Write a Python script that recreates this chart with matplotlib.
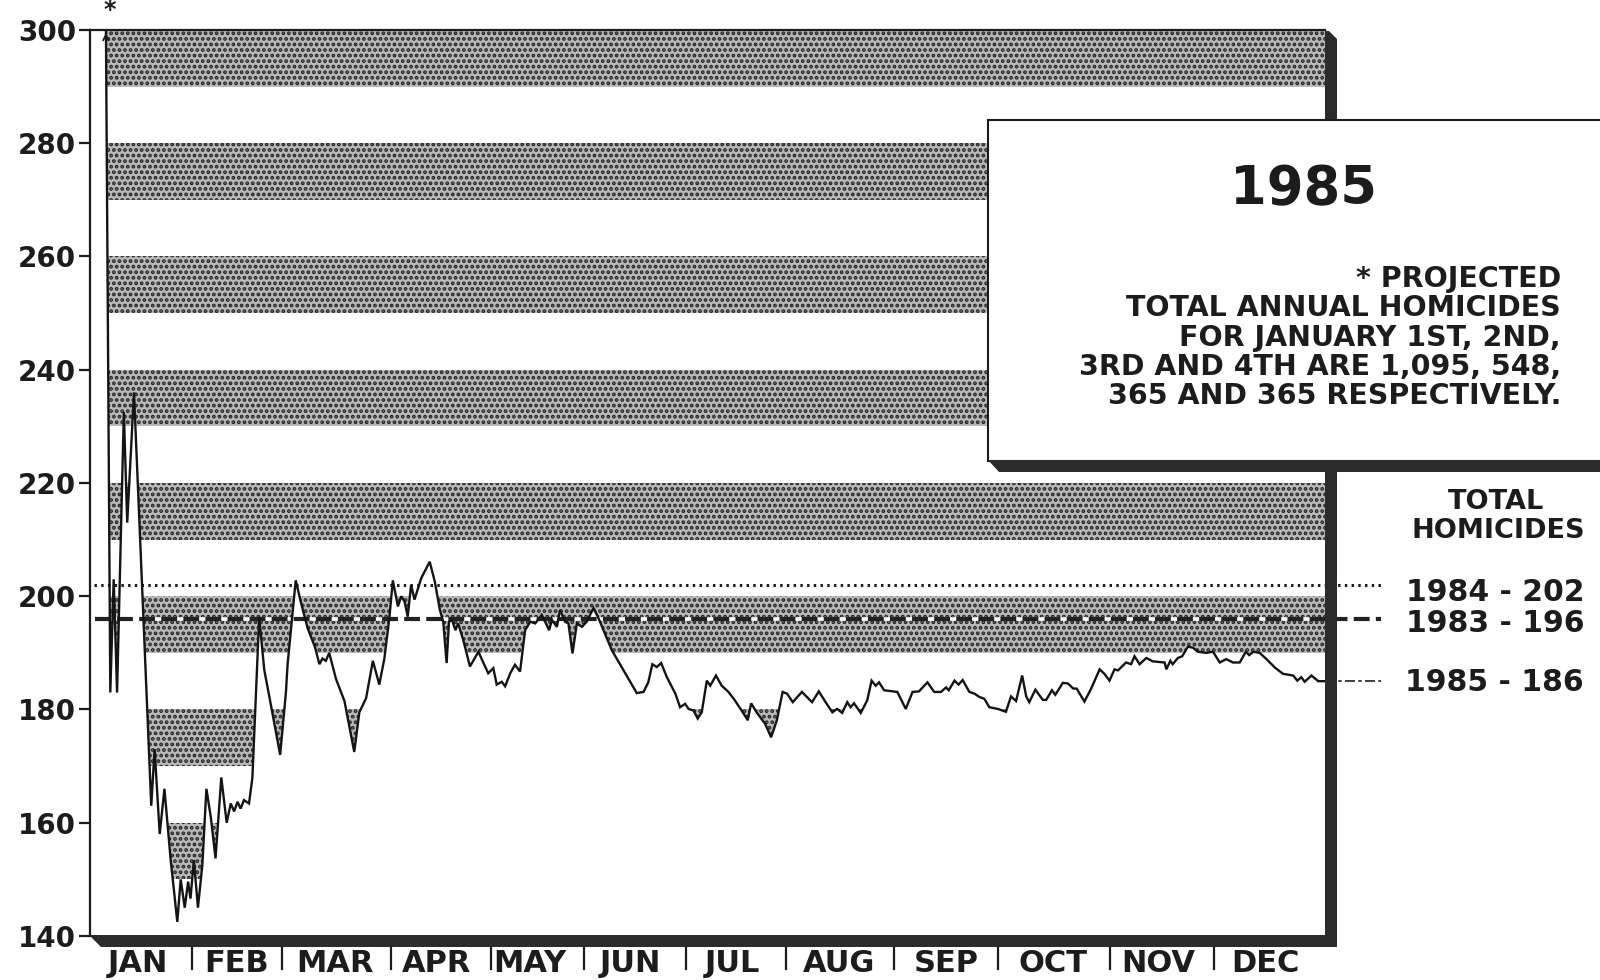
import numpy as np
import matplotlib
matplotlib.use("Agg")
import matplotlib.pyplot as plt
from matplotlib.patches import Rectangle, Polygon
from matplotlib.transforms import blended_transform_factory

# ==========================================
# Data
# ==========================================

# projected annual total, by day of year (Jan 1-4 go off the top)
days = [1, 2, 3, 4, 6, 7, 8, 10, 11, 13, 18.1, 19.1, 20.6, 22.0, 23.8, 25.8,
        26.8, 28.0, 29.0, 29.7, 30.7, 31.9, 33.2, 34.4, 35.7, 37.1, 38.8, 40.4,
        41.6, 42.6, 43.6, 44.5, 45.5, 47.0, 48.0, 50.0, 51.5, 53.4, 56.2, 57.9,
        58.4, 60.8, 62.3, 64.3, 66.5, 67.8, 68.7, 69.7, 70.7, 72.7, 75.2, 78.1,
        79.6, 81.6, 83.6, 85.5, 87.0, 88.5, 89.5, 91.0, 92.0, 93.0, 93.9, 94.9,
        95.9, 97.9, 100.4, 101.9, 103.4, 104.4, 105.4, 106.1, 107.0, 108.0,
        108.8, 110.3, 112.3, 114.8, 116.3, 117.7, 119.2, 120.2, 121.7, 122.7,
        124.2, 125.6, 127.1, 128.6, 130.1, 131.6, 133.5, 134.5, 135.7, 136.5,
        138.0, 138.9, 140.4, 141.4, 142.6, 143.9, 145.4, 146.8, 148.8, 150.3,
        154.2, 158.2, 161.6, 163.6, 165.0, 166.2, 167.5, 168.8, 170.5, 173.0,
        174.4, 175.9, 176.9, 178.4, 179.6, 180.8, 182.3, 183.3, 185.0, 186.7,
        188.7, 190.6, 192.6, 194.4, 195.4, 197.0, 199.5, 201.3, 203.0, 204.7,
        206.0, 207.7, 210.4, 213.4, 215.4, 217.4, 219.4, 220.8, 222.3, 223.8,
        224.8, 225.8, 227.8, 229.7, 231.0, 232.2, 233.2, 234.7, 238.6, 241.1,
        243.1, 245.0, 247.5, 249.5, 251.5, 253.0, 253.8, 255.5, 256.7, 257.9,
        259.9, 261.4, 262.9, 264.3, 265.8, 268.3, 270.7, 272.2, 273.7, 275.5,
        276.7, 277.6, 279.4, 281.6, 282.6, 284.3, 285.3, 287.5, 289.0, 290.6,
        291.6, 293.9, 295.9, 298.4, 299.8, 301.3, 302.8, 303.8, 306.2, 307.7,
        308.7, 310.2, 312.2, 314.1, 317.6, 318.1, 319.3, 320.0, 321.5, 322.8,
        324.5, 326.0, 327.4, 329.9, 331.9, 333.9, 335.8, 337.8, 339.8, 341.6,
        342.6, 343.8, 345.7, 347.7, 350.2, 352.6, 355.6, 356.8, 358.0, 359.0,
        361.0, 363.0, 365.0]

homicides = [1095, 548, 365, 365, 183, 203, 183, 232.5, 213, 236, 163, 173, 158,
             166, 153.7, 142.5, 150, 145, 149.6, 146.6, 153.4, 145, 152.5, 166,
             161, 153.7, 168, 160, 163.4, 162, 163.7, 162.5, 164, 163.4, 168,
             196.3, 187, 181, 172, 183, 188, 202.8, 199, 194.4, 191, 188, 189,
             188.6, 190, 185.4, 181.5, 172.5, 179.5, 182, 188.6, 184.4, 189,
             196.3, 202.8, 198.2, 200, 199, 196.4, 202, 199.4, 203.2, 206.1,
             202.6, 197.6, 195.5, 188.2, 195.5, 195.8, 194, 195.2, 192.3, 187.6,
             190.2, 188.2, 186.4, 187.3, 184.4, 184.9, 184.1, 186.4, 187.9, 186.7,
             194, 195.5, 195.2, 196.7, 195.5, 194, 195.8, 194.6, 197.6, 195.5,
             195.2, 189.9, 195.2, 194.6, 195.5, 197.9, 196.1, 190.5, 186.4, 182.9,
             183.1, 184.8, 188, 187.5, 188.2, 185.7, 182.8, 180.4, 181, 180.1,
             179.8, 178.4, 179.5, 185.1, 184.2, 186, 184.2, 183.1, 181.6, 179.8,
             178.1, 181.1, 179.5, 177.5, 175.1, 178.1, 183.1, 182.8, 181.3, 183.1,
             181.3, 183.2, 181.3, 179.5, 180.1, 179.4, 181.3, 180.4, 181.1, 179.4,
             181.6, 185.1, 184.2, 184.8, 183.4, 183.1, 180.1, 183.1, 183.2, 184.8,
             183.1, 183.1, 183.9, 183.4, 185.1, 184.4, 185.2, 183.1, 182.8, 182.2,
             181.9, 180.4, 180.1, 179.6, 182.3, 181.5, 186, 182.3, 181.3, 183.5,
             181.7, 181.7, 183.4, 182.6, 184.7, 184.6, 183.7, 183.7, 181.4, 183.7,
             187.1, 186.3, 185.1, 187.1, 186.9, 188.3, 188, 189.4, 188, 189.1,
             188.5, 188.3, 187.1, 188.6, 188, 189.1, 189.4, 191.1, 190.9, 190.2,
             190, 190.2, 188.3, 188.9, 188.3, 188.3, 190.2, 189.6, 190.2, 190,
             188.9, 187.4, 186.3, 186, 185.1, 185.7, 184.9, 186, 185, 185]

# previous years' totals
total_1984 = 202
total_1983 = 196
total_1985 = 186

# shaded bands (lower edges)
band_lows = [150, 170, 190, 210, 230, 250, 270, 290]
band_height = 10

months = ["JAN", "FEB", "MAR", "APR", "MAY", "JUN",
          "JUL", "AUG", "SEP", "OCT", "NOV", "DEC"]
month_label_days = [14.1, 43.4, 72.3, 102.5, 129.9, 159.7,
                    189.9, 221.3, 253.2, 284.6, 315.7, 347.3]
month_sep_days = [30.1, 56.6, 88.9, 118.4, 145.9, 176.0,
                  205.6, 237.5, 268.3, 301.5, 332.2]

y_ticks = [140, 160, 180, 200, 220, 240, 260, 280, 300]

note_lines = ["* PROJECTED",
              "TOTAL ANNUAL HOMICIDES",
              "FOR JANUARY 1ST, 2ND,",
              "3RD AND 4TH ARE 1,095, 548,",
              "365 AND 365 RESPECTIVELY."]

# ==========================================
# Figure
# ==========================================

W, H = 1600, 980
INK = "#1c1c1c"
BOLD = dict(family="DejaVu Sans", weight="bold", color=INK)


def fx(x, y):
    # figure pixel (top-down) -> figure fraction
    return (x / W, 1 - y / H)


fig = plt.figure(figsize=(16, 9.8), dpi=100)
fig.patch.set_facecolor("white")

ax = fig.add_axes([90 / W, 1 - 936 / H, 1235 / W, 906 / H])
ax.set_xlim(0, 365)
ax.set_ylim(140, 300)

plt.rcParams["hatch.linewidth"] = 1.9

# stippled bands, only above the line
for lo in band_lows:
    fb = ax.fill_between(days, homicides, 320, facecolor="#b9b9b9",
                         edgecolor="#262626", hatch="...", linewidth=0,
                         zorder=1)
    clip = Rectangle((0, lo), 400, band_height, transform=ax.transData)
    fb.set_clip_path(clip)

# 1985 line
ax.plot(days, homicides, color="#141414", lw=1.7, zorder=4,
        solid_joinstyle="miter")

# reference lines for 1984 and 1983
ref_tr = blended_transform_factory(ax.transAxes, ax.transData)
ax.plot([0.003, 1.045], [total_1984, total_1984], transform=ref_tr,
        color=INK, lw=2.2, linestyle=(0, (0.8, 1.4)), clip_on=False, zorder=3)
ax.plot([0.004, 1.045], [total_1983, total_1983], transform=ref_tr,
        color="white", lw=2.6, clip_on=False, zorder=3)
ax.plot([0.004, 1.045], [total_1983, total_1983], transform=ref_tr,
        color="#222222", lw=3.0, linestyle=(0, (3.8, 1.5)), clip_on=False,
        zorder=3)
# 1985 line carried out to its label
ax.plot([1.0, 1.045], [homicides[-1], homicides[-1]], transform=ref_tr,
        color=INK, lw=1.2, linestyle=(0, (6, 2, 2, 2)), clip_on=False,
        zorder=3)

# arrow + asterisk where the projection leaves the top
i = 3
x_top = days[i] + (days[i + 1] - days[i]) * (homicides[i] - 300) / (homicides[i] - homicides[i + 1])
ax.annotate("", xy=(x_top, 300), xytext=(x_top, 295),
            arrowprops=dict(arrowstyle="->", lw=1.3, color=INK,
                            mutation_scale=10), zorder=5)
ax.text(x_top + 1, 301.5, "*", ha="center", va="bottom", fontsize=17, **BOLD)

# axes styling
for s in ["right", "bottom"]:
    ax.spines[s].set_visible(False)
ax.spines["left"].set_linewidth(1.6)
ax.spines["top"].set_linewidth(1.6)
ax.spines["left"].set_color(INK)
ax.spines["top"].set_color(INK)

ax.set_xticks([])
ax.set_yticks(y_ticks)
ax.tick_params(axis="y", length=8, width=1.6, direction="out", pad=2,
               color=INK)
for lab in ax.get_yticklabels():
    lab.set_fontsize(20)
    lab.set_fontweight("bold")
    lab.set_color(INK)

# thick shadow frame (right and bottom)
fig.add_artist(Polygon([fx(1325, 31), fx(1329, 31), fx(1337, 39),
                        fx(1337, 947), fx(1325, 947)],
                       closed=True, transform=fig.transFigure,
                       facecolor="#2b2b2b", edgecolor="none", zorder=2))
fig.add_artist(Polygon([fx(89, 935), fx(1337, 935), fx(1337, 947),
                        fx(101, 947)],
                       closed=True, transform=fig.transFigure,
                       facecolor="#2b2b2b", edgecolor="none", zorder=2))

# month labels and separators
mon_tr = blended_transform_factory(ax.transData, ax.transAxes)
for d, m in zip(month_label_days, months):
    ax.text(d, -0.030, m, transform=mon_tr, ha="center", va="center",
            fontsize=22, fontweight="bold", color=INK,
            family=["Liberation Sans Narrow", "DejaVu Sans"])
for d in month_sep_days:
    ax.plot([d, d], [-0.013, -0.036], transform=mon_tr, color=INK,
            lw=1.6, clip_on=False)

# ==========================================
# Note box
# ==========================================

fig.add_artist(Rectangle(fx(988, 461), (1640 - 988) / W, (461 - 120) / H,
                         transform=fig.transFigure, facecolor="white",
                         edgecolor=INK, lw=1.5, zorder=6))
fig.add_artist(Polygon([fx(988, 460), fx(1640, 460), fx(1640, 472),
                        fx(999, 472)],
                       closed=True, transform=fig.transFigure,
                       facecolor="#2b2b2b", edgecolor="none", zorder=6))

fig.text(*fx(1303, 189), "1985", ha="center", va="center", fontsize=38,
         zorder=7, **BOLD)
for k, line in enumerate(note_lines):
    fig.text(*fx(1561, 279 + k * 29.3), line, ha="right", va="center",
             fontsize=20.5, zorder=7, **BOLD)

# right-hand legend text
fig.text(*fx(1496, 502), "TOTAL", ha="center", va="center", fontsize=19.5,
         **BOLD)
fig.text(*fx(1498, 531), "HOMICIDES", ha="center", va="center",
         fontsize=19.5, **BOLD)
fig.text(*fx(1495, 592), f"1984 - {total_1984}", ha="center", va="center",
         fontsize=21.5, **BOLD)
fig.text(*fx(1495, 623), f"1983 - {total_1983}", ha="center", va="center",
         fontsize=21.5, **BOLD)
fig.text(*fx(1494, 682), f"1985 - {total_1985}", ha="center", va="center",
         fontsize=21.5, **BOLD)

fig.savefig("out.png", dpi=100, facecolor="white")
